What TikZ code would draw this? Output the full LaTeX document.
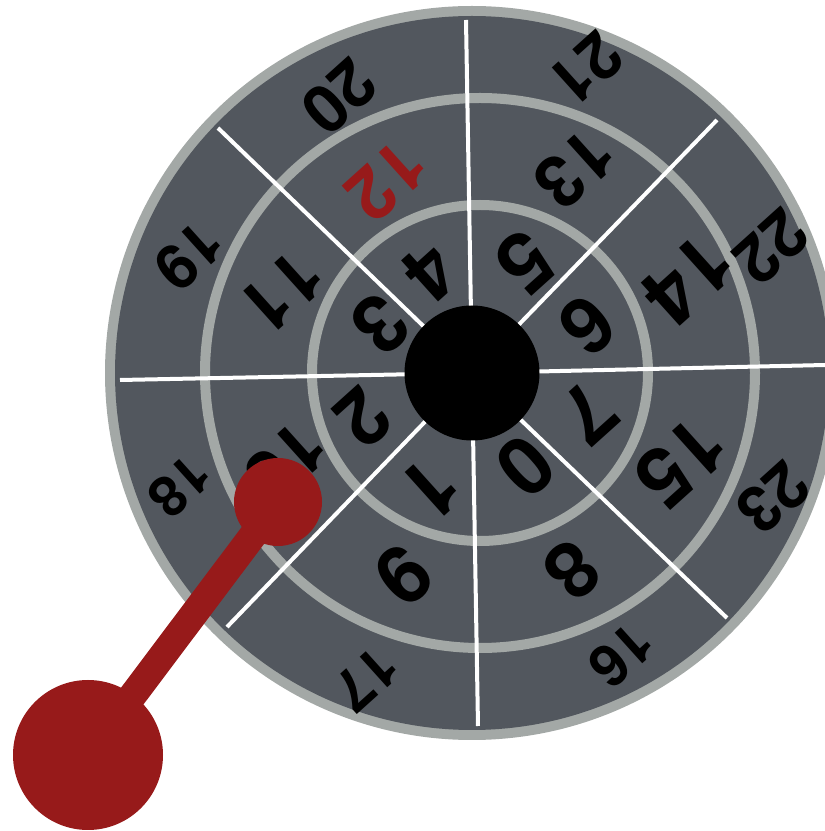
\documentclass[tikz,border=0pt]{standalone}
\usepackage{fontspec}
\setmainfont{TeX Gyre Heros}
\definecolor{wheeldark}{HTML}{52575E}
\definecolor{ringgray}{HTML}{A3A8A6}
\definecolor{handlered}{HTML}{971A1A}
\tikzset{
  ringline/.style={draw=ringgray, line width=10pt},
  spoke/.style={draw=white, line width=4pt},
  lbl/.style={inner sep=0pt, rotate=222, text=black, font=\bfseries\fontsize{#1}{#1}\selectfont},
  redlbl/.style={lbl=#1, text=handlered}
}
\begin{document}
\begin{tikzpicture}[x=1pt,y=1pt]
\useasboundingbox (0,0) rectangle (825,831);
\coordinate (c) at (472,458);
\coordinate (rc) at (480,458);
% wheel body
\fill[ringgray] (c) circle[radius=367];
\fill[wheeldark] (c) circle[radius=357];
\draw[ringline] (rc) circle[radius=275];
\draw[ringline] (rc) circle[radius=168];
% spokes
\coordinate (s1) at (466,811);
\coordinate (s2) at (717,711);
\coordinate (s3) at (825,466);
\coordinate (s4) at (727,213);
\coordinate (s5) at (478,105);
\coordinate (s6) at (227,204);
\coordinate (s7) at (120,451);
\coordinate (s8) at (218,703);
\foreach \s in {s1,s2,s3,s4,s5,s6,s7,s8} \draw[spoke] (c) -- (\s);
% hub
\fill[black] (c) circle[radius=67.5];
% inner ring labels
\node[lbl=80] (n0) at (525,364) {0};
\node[lbl=83] (n1) at (431,342) {1};
\node[lbl=78] (n2) at (363,413) {2};
\node[lbl=80] (n3) at (380,506) {3};
\node[lbl=78] (n4) at (430,558) {4};
\node[lbl=83] (n5) at (525,568) {5};
\node[lbl=78] (n6) at (587,505) {6};
\node[lbl=80] (n7) at (588,418) {7};
% middle ring labels
\node[lbl=78] (n8) at (572,260) {8};
\node[lbl=80] (n9) at (403,255) {9};
\node[lbl=74] (n10) at (286,368) {10};
\node[lbl=74] (n11) at (282,539) {11};
\node[redlbl=72] (n12) at (387,650) {12};
\node[lbl=72] (n13) at (575,662) {13};
\node[lbl=82] (n14) at (688,551) {14};
\node[lbl=82] (n15) at (681,369) {15};
% outer ring labels
\node[lbl=58] (n16) at (621,176) {16};
\node[lbl=58] (n17) at (366,152) {17};
\node[lbl=56] (n18) at (180,345) {18};
\node[lbl=62] (n19) at (189,575) {19};
\node[lbl=66] (n20) at (339,734) {20};
\node[lbl=65] (n21) at (586,762) {21};
\node[lbl=66] (n22) at (771,584) {22};
\node[lbl=64] (n23) at (773,333) {23};
% red handle
\coordinate (hb) at (88,76);
\coordinate (hs) at (278,329);
\draw[handlered, line width=28pt] (hb) -- (hs);
\fill[handlered] (hb) circle[radius=75];
\fill[handlered] (hs) circle[radius=44];
\end{tikzpicture}
\end{document}
